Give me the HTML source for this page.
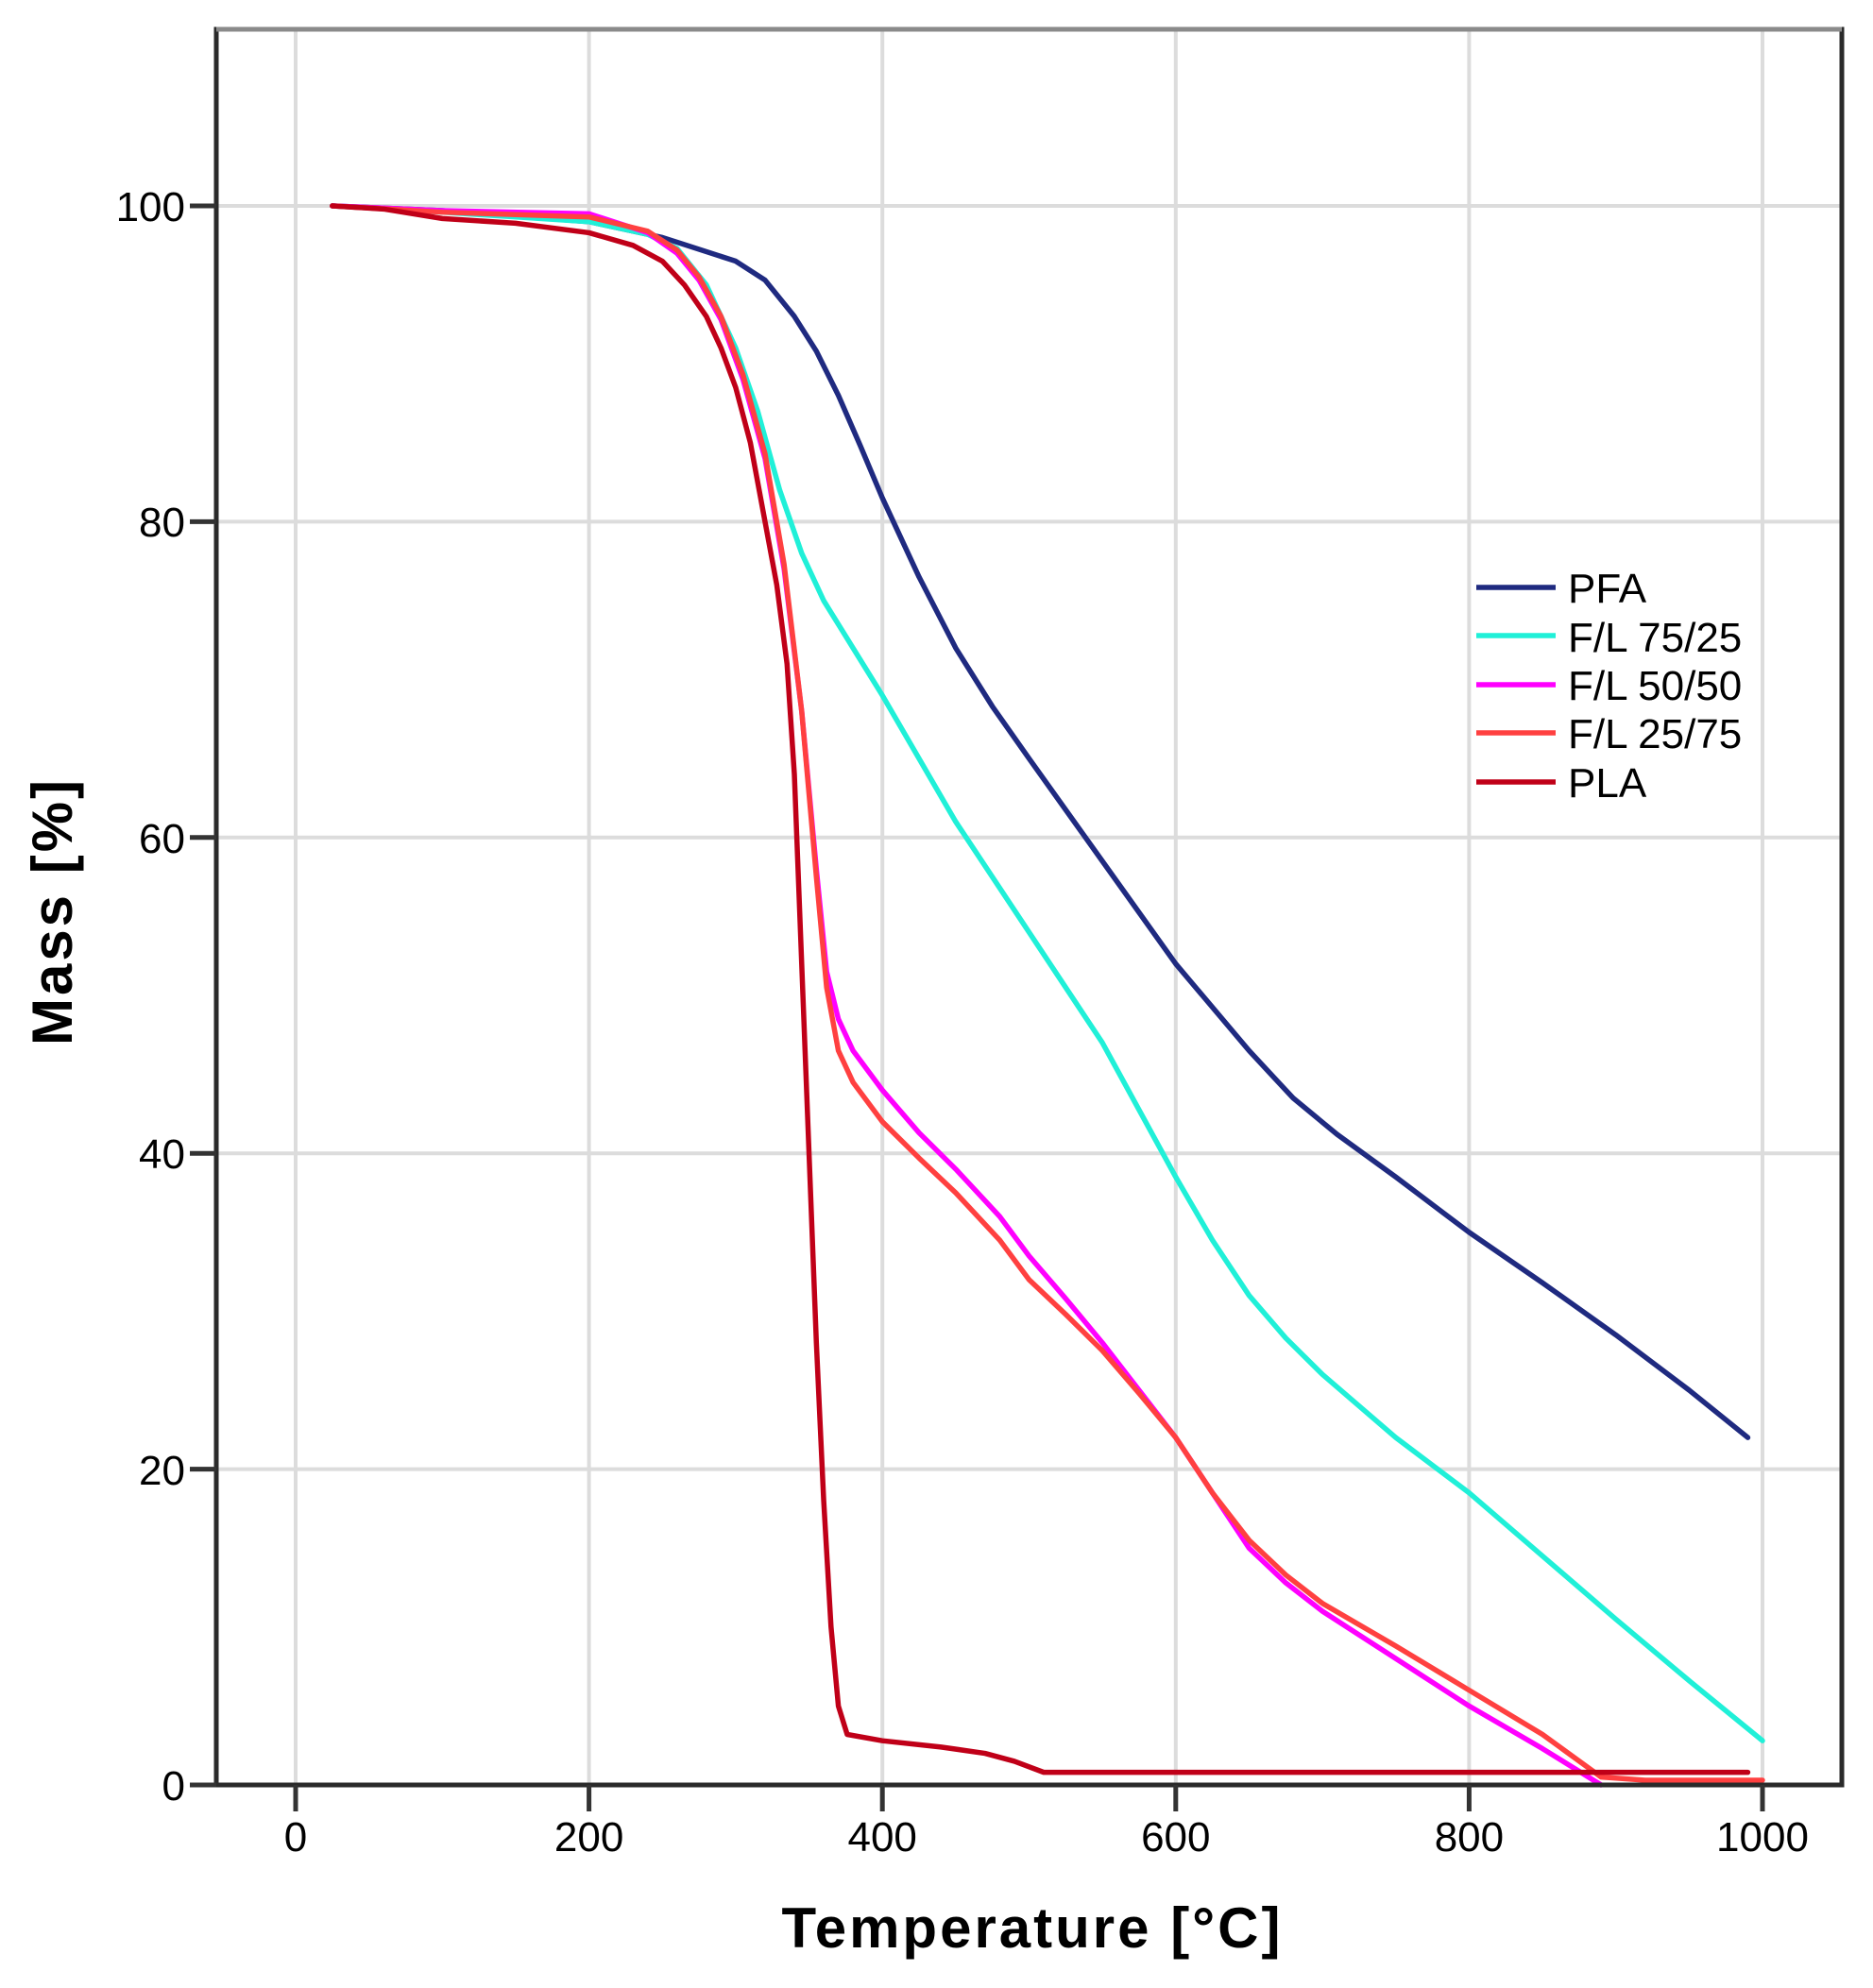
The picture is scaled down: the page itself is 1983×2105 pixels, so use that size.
<!DOCTYPE html>
<html><head><meta charset="utf-8"><style>
html,body{margin:0;padding:0;background:#fff;}
svg{display:block;}
text{font-family:"Liberation Sans",Arial,sans-serif;}
</style></head><body>
<svg width="1983" height="2105" viewBox="0 0 1983 2105" xmlns="http://www.w3.org/2000/svg">
<rect width="1983" height="2105" fill="#fff"/>
<g stroke="#dcdcdc" stroke-width="4">
<line x1="313" y1="31" x2="313" y2="1890"/>
<line x1="623.6" y1="31" x2="623.6" y2="1890"/>
<line x1="934.2" y1="31" x2="934.2" y2="1890"/>
<line x1="1244.8" y1="31" x2="1244.8" y2="1890"/>
<line x1="1555.4" y1="31" x2="1555.4" y2="1890"/>
<line x1="1866" y1="31" x2="1866" y2="1890"/>
<line x1="229" y1="1555.6" x2="1950" y2="1555.6"/>
<line x1="229" y1="1221.2" x2="1950" y2="1221.2"/>
<line x1="229" y1="886.8" x2="1950" y2="886.8"/>
<line x1="229" y1="552.4" x2="1950" y2="552.4"/>
<line x1="229" y1="218" x2="1950" y2="218"/>
</g>
<g transform="translate(313,1890) scale(1.553,-16.72)" fill="none" stroke-linejoin="round" stroke-linecap="round">
<polyline vector-effect="non-scaling-stroke" stroke="#1f2a80" stroke-width="5.5" points="25,100 100,99.7 200,99 250,98 300,96.5 320,95.3 340,93 355,90.8 370,88 385,84.8 400,81.5 425,76.5 450,72 475,68.3 500,65 550,58.5 600,52 650,46.5 680,43.5 710,41.2 750,38.5 800,35 850,31.8 900,28.5 950,25 990,22"/>
<polyline vector-effect="non-scaling-stroke" stroke="#20f0d8" stroke-width="5.5" points="25,100 100,99.6 200,99 240,98.2 260,97.3 280,95 300,91 315,87 330,82 345,78 360,75 380,72 400,69 450,61 500,54 550,47 600,38.5 625,34.5 650,31 675,28.3 700,26 750,22 800,18.5 850,14.5 900,10.5 950,6.6 1000,2.8"/>
<polyline vector-effect="non-scaling-stroke" stroke="#ff00ff" stroke-width="5.5" points="25,100 100,99.7 200,99.5 240,98.3 260,97 275,95.3 290,92.8 305,89 320,84 333,77 345,68 355,58 362,51.5 370,48.5 380,46.5 400,44 425,41.3 450,39 480,36 500,33.5 525,30.8 550,28 575,25 600,22 625,18.5 650,15 675,12.8 700,11 750,8 800,5 850,2.3 890,0"/>
<polyline vector-effect="non-scaling-stroke" stroke="#ff4040" stroke-width="5.5" points="25,100 100,99.6 200,99.3 240,98.4 260,97.2 275,95.5 290,93 305,89.3 320,84.3 333,77.3 345,68 355,57.5 362,50.5 370,46.5 380,44.5 400,42 425,39.7 450,37.5 480,34.5 500,32 525,29.8 550,27.5 575,24.8 600,22 625,18.5 650,15.5 675,13.3 700,11.5 750,8.8 800,6 850,3.2 890,0.5 920,0.3 1000,0.3"/>
<polyline vector-effect="non-scaling-stroke" stroke="#c00018" stroke-width="5.5" points="25,100 60,99.8 100,99.2 150,98.9 200,98.3 230,97.5 250,96.5 265,95 280,93 290,91 300,88.5 310,85 320,80 328,76 335,71 340,64 345,52 350,40 355,28 360,18 365,10 370,5 376,3.2 400,2.8 440,2.4 470,2 490,1.5 510,0.8 600,0.8 800,0.8 990,0.8"/>
</g>
<rect x="229" y="31" width="1721" height="1859" fill="none" stroke="#2a2a2a" stroke-width="5"/>
<line x1="229" y1="31" x2="1950" y2="31" stroke="#8a8a8a" stroke-width="5"/>
<g stroke="#333" stroke-width="5">
<line x1="201" y1="1890" x2="229" y2="1890"/>
<line x1="201" y1="1555.6" x2="229" y2="1555.6"/>
<line x1="201" y1="1221.2" x2="229" y2="1221.2"/>
<line x1="201" y1="886.8" x2="229" y2="886.8"/>
<line x1="201" y1="552.4" x2="229" y2="552.4"/>
<line x1="201" y1="218" x2="229" y2="218"/>
<line x1="313" y1="1890" x2="313" y2="1918"/>
<line x1="623.6" y1="1890" x2="623.6" y2="1918"/>
<line x1="934.2" y1="1890" x2="934.2" y2="1918"/>
<line x1="1244.8" y1="1890" x2="1244.8" y2="1918"/>
<line x1="1555.4" y1="1890" x2="1555.4" y2="1918"/>
<line x1="1866" y1="1890" x2="1866" y2="1918"/>
</g>
<g font-size="44" fill="#000" text-anchor="end">
<text x="196" y="1906">0</text>
<text x="196" y="1572">20</text>
<text x="196" y="1237">40</text>
<text x="196" y="903">60</text>
<text x="196" y="568">80</text>
<text x="196" y="234">100</text>
</g>
<g font-size="44" fill="#000" text-anchor="middle">
<text x="313" y="1960">0</text>
<text x="623.6" y="1960">200</text>
<text x="934.2" y="1960">400</text>
<text x="1244.8" y="1960">600</text>
<text x="1555.4" y="1960">800</text>
<text x="1866" y="1960">1000</text>
</g>
<text x="1093" y="2062" font-size="60" font-weight="bold" text-anchor="middle" letter-spacing="3">Temperature [°C]</text>
<text transform="translate(76,965) rotate(-90)" font-size="60" font-weight="bold" text-anchor="middle" letter-spacing="3">Mass [%]</text>
<g stroke-width="5.5">
<line x1="1563" y1="622" x2="1647" y2="622" stroke="#1f2a80"/>
<line x1="1563" y1="673" x2="1647" y2="673" stroke="#20f0d8"/>
<line x1="1563" y1="725" x2="1647" y2="725" stroke="#ff00ff"/>
<line x1="1563" y1="776" x2="1647" y2="776" stroke="#ff4040"/>
<line x1="1563" y1="828" x2="1647" y2="828" stroke="#c00018"/>
</g>
<g font-size="44" fill="#000">
<text x="1660" y="638">PFA</text>
<text x="1660" y="690">F/L 75/25</text>
<text x="1660" y="741">F/L 50/50</text>
<text x="1660" y="792">F/L 25/75</text>
<text x="1660" y="844">PLA</text>
</g>
</svg>
</body></html>
